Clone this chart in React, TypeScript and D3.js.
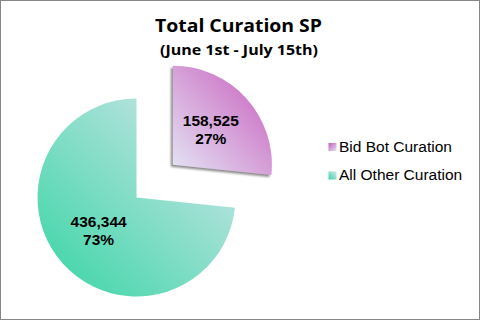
import React from "react";
import * as d3 from "d3";

const categories = ["Bid Bot Curation", "All Other Curation"];
const values = [158525, 436344];
const percents = ["27%", "73%"];
const titleText = "Total Curation SP";
const subtitleText = "(June 1st - July 15th)";

const W = 481;
const H = 321;
const cx = 136.5;
const cy = 197.5;
const R = 99;
const explode = [49, 0];

const gradColors = [
  ["#c75abb", "#e4e6f5"],
  ["#d8e6ee", "#35d5a3"],
];

export default function App() {
  const pie = d3.pie<number>().sort(null).startAngle(0).endAngle(2 * Math.PI);
  const arcs = pie(values);
  const arcGen = d3.arc<d3.PieArcDatum<number>>().innerRadius(0).outerRadius(R);
  const labelArc = d3.arc<d3.PieArcDatum<number>>().innerRadius(51).outerRadius(51);
  const fmt = d3.format(",");

  return (
    <svg
      width={W}
      height={H}
      style={{ position: "absolute", left: 0, top: 0, background: "#fff" }}
    >
      <defs>
        {gradColors.map((c, i) => (
          <linearGradient key={i} id={`g${i}`} x1="1" y1="0" x2="0" y2="1">
            <stop offset="0" stopColor={c[0]} />
            <stop offset="1" stopColor={c[1]} />
          </linearGradient>
        ))}
        <linearGradient id="l0" x1="0" y1="0" x2="1" y2="1">
          <stop offset="0" stopColor={gradColors[0][0]} />
          <stop offset="1" stopColor={gradColors[0][1]} />
        </linearGradient>
        <linearGradient id="l1" x1="0" y1="1" x2="1" y2="0">
          <stop offset="0" stopColor={gradColors[1][1]} />
          <stop offset="1" stopColor={gradColors[1][0]} />
        </linearGradient>
        <filter id="shadow" x="-20%" y="-20%" width="140%" height="140%">
          <feDropShadow dx="-2" dy="2" stdDeviation="0.8" floodColor="#707070" floodOpacity="0.8" />
        </filter>
      </defs>
      <rect x={0.5} y={0.5} width={479} height={319} fill="#fff" stroke="#868686" strokeWidth={1} />
      <text
        x={238.5}
        y={31.5}
        textAnchor="middle"
        fontFamily="'Open Sans', sans-serif"
        fontWeight="bold"
        fontSize={18}
        textLength={167}
        lengthAdjust="spacingAndGlyphs"
        fill="#000"
      >
        {titleText}
      </text>
      <text
        x={239}
        y={55}
        textAnchor="middle"
        fontFamily="'Open Sans', sans-serif"
        fontWeight="bold"
        fontSize={14.5}
        textLength={158}
        lengthAdjust="spacingAndGlyphs"
        fill="#000"
      >
        {subtitleText}
      </text>
      {arcs.map((a, i) => {
        const mid = (a.startAngle + a.endAngle) / 2;
        const dx = Math.sin(mid) * explode[i];
        const dy = -Math.cos(mid) * explode[i];
        const [lx, ly] = labelArc.centroid(a);
        return (
          <g key={i} transform={`translate(${cx + dx},${cy + dy})`}>
            <path
              d={arcGen(a) || ""}
              fill={`url(#g${i})`}
              filter={i === 0 ? "url(#shadow)" : undefined}
            />
            <text
              x={lx}
              y={ly}
              textAnchor="middle"
              fontFamily="'Liberation Sans', Arial, sans-serif"
              fontWeight="bold"
              fontSize={15.5}
              fill="#000"
            >
              <tspan x={lx} dy={-5}>{fmt(values[i])}</tspan>
              <tspan x={lx} dy={18}>{percents[i]}</tspan>
            </text>
          </g>
        );
      })}
      {categories.map((c, i) => (
        <g key={c} transform={`translate(328.5,${143 + i * 28.5})`}>
          <rect x={0} y={0} width={8} height={8} fill={`url(#l${i})`} />
          <text
            x={10.5}
            y={8.7}
            fontFamily="'Liberation Sans', Arial, sans-serif"
            fontSize={15.5}
            fill="#000"
          >
            {c}
          </text>
        </g>
      ))}
    </svg>
  );
}
